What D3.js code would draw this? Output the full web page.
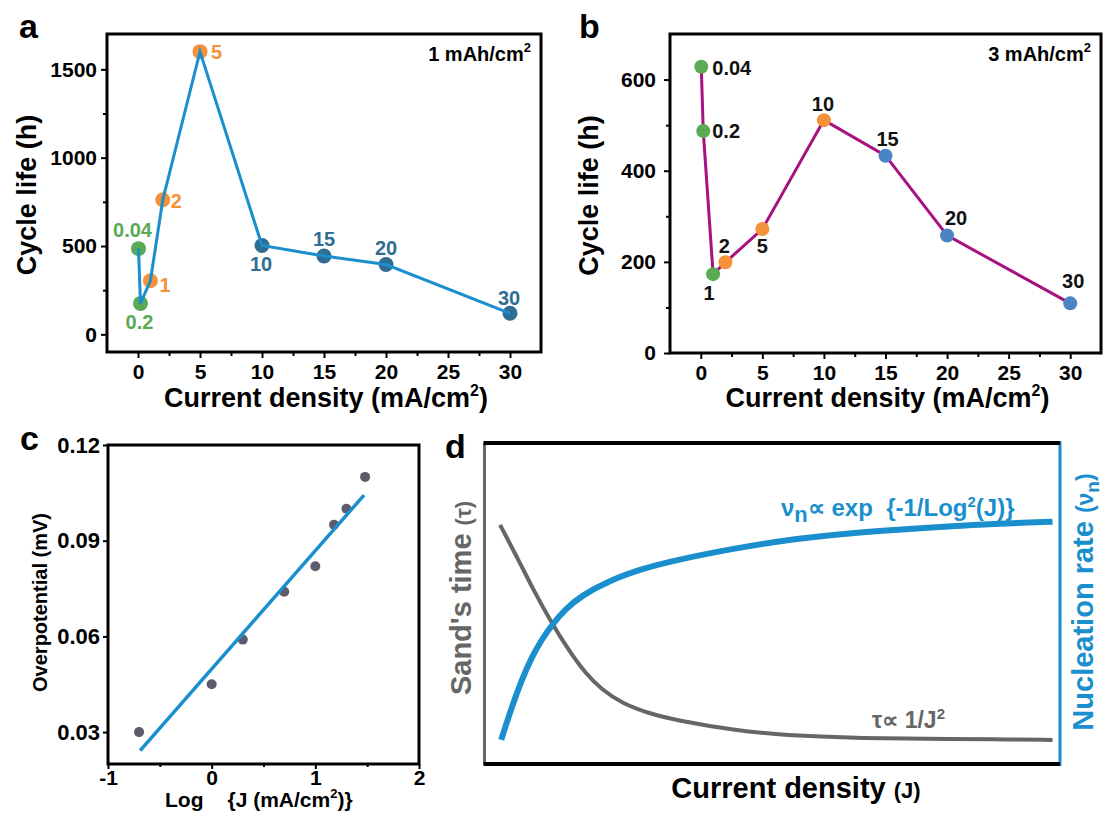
<!DOCTYPE html>
<html><head><meta charset="utf-8">
<script src="https://cdn.jsdelivr.net/npm/d3@7"></script>
<style>
html,body{margin:0;padding:0;background:#fff;}
svg{display:block;font-family:"Liberation Sans",Arial,sans-serif;font-weight:bold;}
</style></head>
<body><svg id="c" width="1104" height="813"></svg>
<script>
// ---------- DATA ----------
// Panel a (1 mAh/cm2)
const aJ = [0.04, 0.2, 1, 2, 5, 10, 15, 20, 30];
const aLife = [485, 175, 303, 762, 1600, 503, 443, 395, 119];
const aGroup = ["g","g","o","o","o","b","b","b","b"];
const aLabels = ["0.04","0.2","1","2","5","10","15","20","30"];
const aYTicks = [0, 500, 1000, 1500];
const aYMinor = [250, 750, 1250];
const xTicksAB = [0, 5, 10, 15, 20, 25, 30];
const xMinorAB = [2.5, 7.5, 12.5, 17.5, 22.5, 27.5];
// Panel b (3 mAh/cm2)
const bJ = [0.04, 0.2, 1, 2, 5, 10, 15, 20, 30];
const bLife = [628, 487, 173, 199, 272, 511, 433, 258, 109];
const bGroup = ["g","g","g","o","o","o","b","b","b"];
const bLabels = ["0.04","0.2","1","2","5","10","15","20","30"];
const bYTicks = [0, 200, 400, 600];
const bYMinor = [100, 300, 500];
// Panel c
const cLogJ = [-0.7, 0, 0.3, 0.7, 1.0, 1.18, 1.3, 1.48];
const cEta = [0.030, 0.045, 0.059, 0.074, 0.082, 0.095, 0.100, 0.110];
const cFitX = [-0.69, 1.47];
const cFitY = [0.0242, 0.1043];
const cYTicks = [0.03, 0.06, 0.09, 0.12];
const cXTicks = [-1, 0, 1, 2];
const cXMinor = [-0.5, 0.5, 1.5];
// Panel d (schematic curves, relative units 0-100)
const dTauX = [2.7, 5.9, 8.8, 11.7, 14.6, 17.5, 20.4, 23.9, 28.5, 33.1, 43.8, 51.1, 58.5, 65.8, 73.2, 80.5, 87.9, 98.7];
const dTau  = [74.5, 63.6, 53.2, 43.8, 35.5, 28.3, 23.1, 18.9, 15.8, 13.7, 10.4, 9.2, 8.5, 8.1, 7.9, 7.8, 7.7, 7.5];
const dNuX  = [2.9, 4.7, 6.5, 8.2, 10.0, 11.7, 14.0, 16.9, 21.5, 27.3, 33.1, 43.8, 51.1, 58.5, 65.8, 73.2, 80.5, 87.9, 98.7];
const dNu   = [7.5, 17.6, 26.4, 33.3, 38.9, 43.3, 48.2, 52.5, 57.0, 60.8, 63.5, 67.3, 69.4, 71.0, 72.2, 73.2, 74.0, 74.8, 75.5];

// ---------- STYLE ----------
const groupColorA = {g:"#5aaa55", o:"#f5913a", b:"#2f6d92"};
const groupColorB = {g:"#5aaa55", o:"#f5913a", b:"#4a84c4"};
const lineBlue = "#1b8fcd";
const magenta = "#a8127f";
const FONT = "Liberation Sans, Arial, sans-serif";

const svg = d3.select("#c");

function frame(g, x0, y0, x1, y1, w) {
  g.append("rect").attr("x", x0).attr("y", y0).attr("width", x1 - x0).attr("height", y1 - y0)
    .attr("fill", "none").attr("stroke", "#000").attr("stroke-width", w || 3);
}
function styleAxis(sel, fs) {
  sel.select(".domain").remove();
  sel.selectAll(".tick line").attr("stroke", "#000").attr("stroke-width", 2);
  sel.selectAll(".tick text").attr("font-size", fs).attr("font-weight", "bold")
    .attr("font-family", FONT).attr("fill", "#000");
}
function cyclePanel(opt) {
  const g = svg.append("g");
  const x = d3.scaleLinear().domain([-2.5, 32.5]).range([opt.L, opt.R]);
  const y = d3.scaleLinear().domain(opt.yDom).range([opt.B, opt.T]);
  const ya = g.append("g").attr("transform", `translate(${opt.L},0)`)
    .call(d3.axisLeft(y).tickValues(opt.yTicks).tickSize(6).tickPadding(opt.yPad).tickFormat(d3.format("d")));
  styleAxis(ya, 21);
  const ym = g.append("g").attr("transform", `translate(${opt.L},0)`)
    .call(d3.axisLeft(y).tickValues(opt.yMinor).tickSize(4).tickFormat(""));
  styleAxis(ym, 0);
  const xa = g.append("g").attr("transform", `translate(0,${opt.B})`)
    .call(d3.axisBottom(x).tickValues(xTicksAB).tickSize(6).tickPadding(6).tickFormat(d3.format("d")));
  styleAxis(xa, 21);
  const xm = g.append("g").attr("transform", `translate(0,${opt.B})`)
    .call(d3.axisBottom(x).tickValues(xMinorAB).tickSize(4).tickFormat(""));
  styleAxis(xm, 0);
  frame(g, opt.L, opt.T, opt.R, opt.B, 3);
  const pts = opt.xs.map((v, i) => [v, opt.ys[i]]);
  const ln = d3.line().x(d => x(d[0])).y(d => y(d[1]));
  if (!opt.lineOnTop) {
    g.append("path").datum(pts).attr("d", ln)
      .attr("fill", "none").attr("stroke", opt.lineColor).attr("stroke-width", 3);
  }
  g.selectAll("circle.pt").data(pts).join("circle")
    .attr("cx", d => x(d[0])).attr("cy", d => y(d[1])).attr("r", opt.r)
    .attr("fill", (d, i) => opt.colors[opt.groups[i]]);
  if (opt.lineOnTop) {
    g.append("path").datum(pts).attr("d", ln)
      .attr("fill", "none").attr("stroke", opt.lineColor).attr("stroke-width", 3);
  }
  opt.labelPos.forEach((p, i) => {
    g.append("text").attr("x", x(opt.xs[i]) + p[0]).attr("y", y(opt.ys[i]) + p[1])
      .attr("text-anchor", p[2]).attr("font-size", 20)
      .attr("fill", opt.labelColor ? opt.labelColor : opt.colors[opt.groups[i]])
      .text(opt.labels[i]);
  });
  g.append("text").attr("x", opt.letterX).attr("y", 38).attr("font-size", 34).text(opt.letter);
  g.append("text").attr("transform", `translate(${opt.yLabX},${(opt.T + opt.B) / 2 + 2}) rotate(-90)`)
    .attr("text-anchor", "middle").attr("font-size", 27).text("Cycle life (h)");
  const xl = g.append("text").attr("x", (opt.L + opt.R) / 2 + 2).attr("y", 407)
    .attr("text-anchor", "middle").attr("font-size", 27);
  xl.append("tspan").text("Current density (mA/cm");
  xl.append("tspan").attr("dy", -11).attr("font-size", 16).text("2");
  xl.append("tspan").attr("dy", 11).text(")");
  const cap = g.append("text").attr("x", opt.R - 10).attr("y", 61).attr("text-anchor", "end").attr("font-size", 20);
  cap.append("tspan").text(opt.cap);
  cap.append("tspan").attr("dy", -9).attr("font-size", 13).text("2");
  return g;
}

// Panel a
cyclePanel({
  L: 107, R: 541, T: 34, B: 352, yDom: [-100, 1700], yTicks: aYTicks, yMinor: aYMinor, yPad: 4,
  xs: aJ, ys: aLife, groups: aGroup, labels: aLabels, colors: groupColorA,
  lineColor: lineBlue, r: 7.5, lineOnTop: true, letter: "a", letterX: 19, yLabX: 36,
  cap: "1 mAh/cm",
  labelPos: [[-6, -12, "middle"], [-1, 26, "middle"], [9, 11, "start"], [8, 8, "start"],
             [11, 7, "start"], [-1, 26, "middle"], [0, -10, "middle"], [0, -10, "middle"], [-1, -8, "middle"]]
});
// Panel b
cyclePanel({
  L: 670, R: 1101, T: 34, B: 353, yDom: [0, 700], yTicks: bYTicks, yMinor: bYMinor, yPad: 8,
  xs: bJ, ys: bLife, groups: bGroup, labels: bLabels, colors: groupColorB,
  lineColor: magenta, r: 7, lineOnTop: false, letter: "b", letterX: 579, yLabX: 598,
  cap: "3 mAh/cm", labelColor: "#111",
  labelPos: [[11, 8, "start"], [9, 7, "start"], [-4, 26, "middle"], [-1, -9, "middle"],
             [0, 24, "middle"], [-1, -9, "middle"], [2, -10, "middle"], [9, -10, "middle"], [3, -15, "middle"]]
});

// Panel c
(function () {
  const L = 108, R = 419, T = 445, B = 764;
  const g = svg.append("g");
  const x = d3.scaleLinear().domain([-1, 2]).range([L, R]);
  const y = d3.scaleLinear().domain([0.02, 0.12]).range([B, T]);
  const ya = g.append("g").attr("transform", `translate(${L},0)`)
    .call(d3.axisLeft(y).tickValues(cYTicks).tickSize(5).tickPadding(3).tickFormat(d3.format(".2f")));
  styleAxis(ya, 22);
  const xa = g.append("g").attr("transform", `translate(0,${B})`)
    .call(d3.axisBottom(x).tickValues(cXTicks).tickSize(5).tickPadding(1).tickFormat(d => String(d)));
  styleAxis(xa, 21);
  const xm = g.append("g").attr("transform", `translate(0,${B})`)
    .call(d3.axisBottom(x).tickValues(cXMinor).tickSize(3).tickFormat(""));
  styleAxis(xm, 0);
  frame(g, L, T, R, B, 3);
  g.selectAll("circle").data(cLogJ.map((v, i) => [v, cEta[i]])).join("circle")
    .attr("cx", d => x(d[0])).attr("cy", d => y(d[1])).attr("r", 5).attr("fill", "#5c5c6c");
  g.append("path").datum(cFitX.map((v, i) => [v, cFitY[i]]))
    .attr("d", d3.line().x(d => x(d[0])).y(d => y(d[1])))
    .attr("stroke", lineBlue).attr("stroke-width", 3.5).attr("fill", "none");
  g.append("text").attr("x", 20).attr("y", 450).attr("font-size", 34).text("c");
  g.append("text").attr("transform", `translate(47,${(T + B) / 2 - 2}) rotate(-90)`)
    .attr("text-anchor", "middle").attr("font-size", 20).text("Overpotential (mV)");
  const xl = g.append("text").attr("x", 165).attr("y", 807).attr("font-size", 21);
  xl.append("tspan").text("Log");
  xl.append("tspan").attr("dx", 24).text("{J (mA/cm");
  xl.append("tspan").attr("dy", -9).attr("font-size", 13).text("2");
  xl.append("tspan").attr("dy", 9).text(")}");
})();

// Panel d
(function () {
  const L = 484.5, R = 1060, T = 443, B = 764;
  const g = svg.append("g");
  const x = d3.scaleLinear().domain([0, 100]).range([L, R]);
  const y = d3.scaleLinear().domain([0, 100]).range([B, T]);
  g.append("line").attr("x1", L).attr("x2", L).attr("y1", T).attr("y2", B).attr("stroke", "#666").attr("stroke-width", 3);
  g.append("line").attr("x1", R).attr("x2", R).attr("y1", T - 2).attr("y2", B + 2).attr("stroke", lineBlue).attr("stroke-width", 3);
  g.append("line").attr("x1", L - 1).attr("x2", R).attr("y1", T).attr("y2", T).attr("stroke", "#000").attr("stroke-width", 4);
  g.append("line").attr("x1", L - 1).attr("x2", R).attr("y1", B).attr("y2", B).attr("stroke", "#000").attr("stroke-width", 4);
  const line = d3.line().x(d => x(d[0])).y(d => y(d[1])).curve(d3.curveBasis);
  g.append("path").datum(dTauX.map((v, i) => [v, dTau[i]])).attr("d", line)
    .attr("fill", "none").attr("stroke", "#666").attr("stroke-width", 4);
  g.append("path").datum(dNuX.map((v, i) => [v, dNu[i]])).attr("d", line)
    .attr("fill", "none").attr("stroke", lineBlue).attr("stroke-width", 6);
  g.append("text").attr("x", 445).attr("y", 458).attr("font-size", 34).text("d");
  const f1 = g.append("text").attr("x", 781).attr("y", 516).attr("font-size", 24).attr("fill", lineBlue);
  f1.append("tspan").text("ν");
  f1.append("tspan").attr("dy", 6).attr("font-size", 22).text("n");
  f1.append("tspan").attr("dy", -6).text("∝ exp\u00a0\u00a0{-1/Log");
  f1.append("tspan").attr("dy", -9).attr("font-size", 15).text("2");
  f1.append("tspan").attr("dy", 9).text("(J)}");
  const f2 = g.append("text").attr("x", 872).attr("y", 728).attr("font-size", 23).attr("fill", "#666");
  f2.append("tspan").text("τ∝ 1/J");
  f2.append("tspan").attr("dy", -9).attr("font-size", 15).text("2");
  const xl = g.append("text").attr("x", 796).attr("y", 798).attr("text-anchor", "middle").attr("font-size", 29).attr("fill", "#000");
  xl.append("tspan").text("Current density ");
  xl.append("tspan").attr("font-size", 22).text("(J)");
  const yl = g.append("text").attr("transform", `translate(471,598) rotate(-90)`)
    .attr("text-anchor", "middle").attr("font-size", 29).attr("fill", "#666");
  yl.append("tspan").text("Sand's time ");
  yl.append("tspan").attr("font-size", 22).text("(τ)");
  const yr = g.append("text").attr("transform", `translate(1093,602) rotate(-90)`)
    .attr("text-anchor", "middle").attr("font-size", 29).attr("fill", lineBlue);
  yr.append("tspan").text("Nucleation rate ");
  yr.append("tspan").attr("font-size", 23).text("(ν");
  yr.append("tspan").attr("dy", 6).attr("font-size", 19).text("n");
  yr.append("tspan").attr("dy", -6).attr("font-size", 23).text(")");
})();
</script></body></html>
